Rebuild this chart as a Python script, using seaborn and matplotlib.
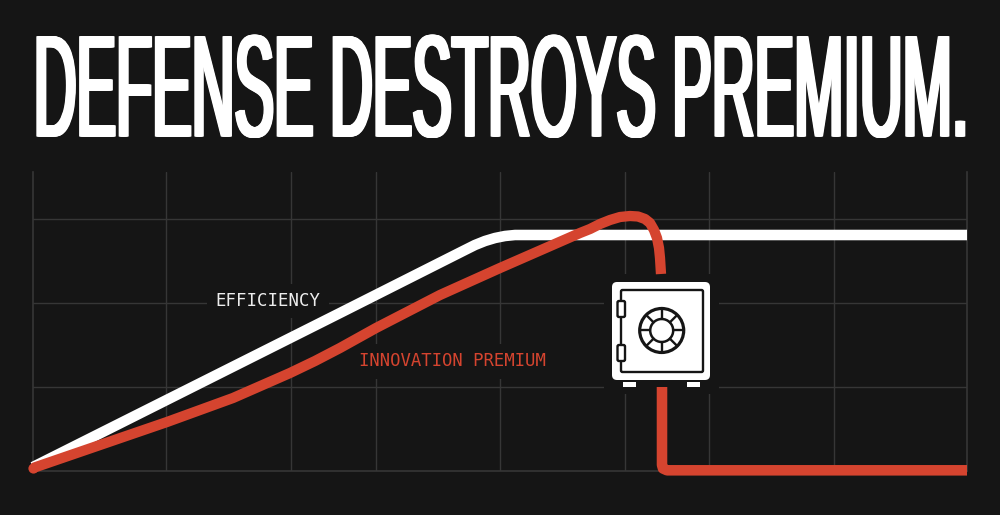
import matplotlib
matplotlib.use("Agg")
import matplotlib.pyplot as plt
import matplotlib.patheffects as pe
from matplotlib.patches import Circle, FancyBboxPatch, Rectangle
from matplotlib.transforms import Affine2D
import numpy as np
import pandas as pd
import seaborn as sns

BG = "#151515"
GRID = "#363636"
RED = "#D5442F"

# values, axis runs 0-934 across and 0-299 up
eff_x = [0, 307, 432, 442, 452, 462, 472, 482, 497, 934]
eff_y = [4, 158, 221, 226, 230, 233, 235, 236, 236, 236]
prem_x = [0, 67, 134, 200, 257, 282, 307, 343, 407, 467, 547, 557, 567, 577, 587, 597, 605, 612, 617, 621, 624, 626, 627, 628]
prem_y = [3, 26, 49, 73, 98, 110, 123, 143, 176, 203, 238, 242, 247, 251, 254, 255, 254.5, 252, 248, 241, 233, 223, 213, 197]
drop_x = [629, 629, 630, 634, 934]
drop_y = [84, 6, 2.5, 0.7, 0.7]
grid_x = [133, 258, 343, 467, 592, 676, 801]
grid_y = [84, 168, 252]
title = "DEFENSE DESTROYS PREMIUM."


class Stretch(pe.AbstractPathEffect):
    # tall condensed headline: stretch the glyphs up from the baseline, smear for stem weight
    def __init__(self, sy, smear):
        super().__init__()
        self.sy = sy
        self.smear = smear

    def draw_path(self, renderer, gc, tpath, affine, rgbFace=None):
        base = affine.get_matrix()[1, 2]
        tall = affine + Affine2D().translate(0, -base).scale(1, self.sy).translate(0, base)
        for dx in np.linspace(0, self.smear, 9):
            renderer.draw_path(gc, tpath, tall + Affine2D().translate(dx, 0), rgbFace)


sns.set_theme(style="dark", rc={"figure.facecolor": BG, "axes.facecolor": BG})

fig = plt.figure(figsize=(10, 5.15), dpi=100)
ax = fig.add_axes([33 / 1000, 1 - 471 / 515, 934 / 1000, 299 / 515])

for gx in grid_x:
    ax.axvline(gx, color=GRID, lw=1, zorder=1)
for gy in grid_y:
    ax.axhline(gy, color=GRID, lw=1, zorder=1)

# dark gap the safe sits in
ax.add_patch(Rectangle((571, 77), 115, 120, fc=BG, ec="none", zorder=2))

eff = pd.DataFrame({"x": eff_x, "y": eff_y})
sns.lineplot(data=eff, x="x", y="y", color="white", lw=7.6, sort=False, estimator=None, ax=ax,
             zorder=3, solid_capstyle="butt", solid_joinstyle="round", clip_on=False)
prem = pd.DataFrame({"x": prem_x, "y": prem_y})
sns.lineplot(data=prem, x="x", y="y", color=RED, lw=7.4, sort=False, estimator=None, ax=ax,
             zorder=4, solid_capstyle="butt", solid_joinstyle="round", clip_on=False)
drop = pd.DataFrame({"x": drop_x, "y": drop_y})
sns.lineplot(data=drop, x="x", y="y", color=RED, lw=7.6, sort=False, estimator=None, ax=ax,
             zorder=4, solid_capstyle="butt", solid_joinstyle="round", clip_on=False)
# round start of the red line
ax.scatter(prem_x[:1], prem_y[:1], s=54, color=RED, linewidths=0, zorder=4, clip_on=False)

ax.set_xlim(0, 934)
ax.set_ylim(0, 299)
ax.set_xlabel("")
ax.set_ylabel("")
ax.set_xticks([])
ax.set_yticks([])
for side in ["left", "bottom", "right"]:
    ax.spines[side].set_color(GRID)
    ax.spines[side].set_linewidth(1.2)
ax.spines["top"].set_visible(False)

ax.text(235, 170, "EFFICIENCY", color="#EDEDED", family="DejaVu Sans Mono", fontsize=12.5,
        ha="center", va="center", zorder=2.7, bbox=dict(fc=BG, ec="none", pad=6))
ax.text(419, 109.5, "INNOVATION PREMIUM", color=RED, family="DejaVu Sans Mono", fontsize=12.45,
        ha="center", va="center", zorder=2.7, bbox=dict(fc=BG, ec="none", pad=6))

# safe icon, in its own little axes
sf = fig.add_axes([608 / 1000, 1 - 392 / 515, 106 / 1000, 114 / 515])
sf.set_xlim(608, 714)
sf.set_ylim(392, 278)
sf.axis("off")
sf.patch.set_alpha(0)
sf.add_patch(FancyBboxPatch((615, 285), 92, 92, boxstyle="round,pad=3,rounding_size=5", fc="white", ec="none"))
sf.add_patch(FancyBboxPatch((621, 290), 82, 82, boxstyle="round,pad=0,rounding_size=1.5", fc="white", ec=BG, lw=1.7))
for fx in [623, 687]:
    sf.add_patch(Rectangle((fx, 382), 13, 5, fc="white", ec="none"))
for hy in [301, 345]:
    sf.add_patch(FancyBboxPatch((617.5, hy), 7.5, 16, boxstyle="round,pad=0,rounding_size=1.5", fc="white", ec=BG, lw=1.7))
cx, cy = 661.7, 330.5
for a in np.deg2rad(np.arange(0, 360, 45)):
    sf.plot([cx + 11.5 * np.cos(a), cx + 22 * np.cos(a)], [cy + 11.5 * np.sin(a), cy + 22 * np.sin(a)],
            color=BG, lw=1.7)
sf.add_patch(Circle((cx, cy), 22, fc="none", ec=BG, lw=2.3))
sf.add_patch(Circle((cx, cy), 11.5, fc="white", ec=BG, lw=1.8))

fig.text(31.5 / 1000, 1 - 136.5 / 515, title, color="white", family="Liberation Sans", fontsize=42.65,
         ha="left", va="baseline", path_effects=[Stretch(2.46, 4.5)])

fig.savefig("out.png", dpi=100, facecolor=BG)
